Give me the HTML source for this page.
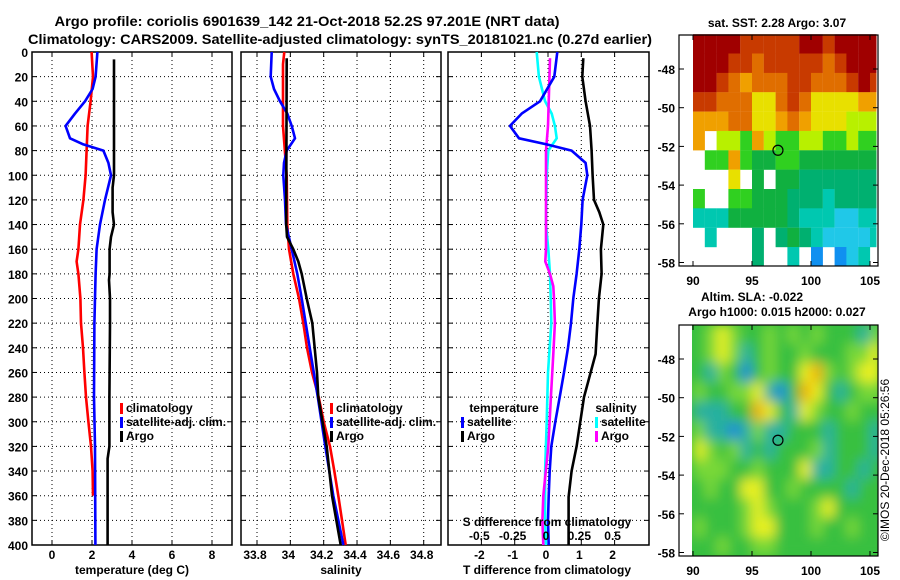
<!DOCTYPE html>
<html><head><meta charset="utf-8"><style>
html,body{margin:0;padding:0;background:#fff;}
svg{display:block;font-family:"Liberation Sans",sans-serif;font-weight:bold;}
</style></head><body>
<svg id="c" width="900" height="580" viewBox="0 0 900 580" xmlns="http://www.w3.org/2000/svg">
<defs><filter id="blur" x="-0.1" y="-0.1" width="1.2" height="1.2"><feGaussianBlur stdDeviation="6"/></filter>
<clipPath id="clipB"><rect x="692" y="325" width="186" height="231"/></clipPath></defs>
</svg>
<script>
// ---------- data ----------
const depthTicks=[0,20,40,60,80,100,120,140,160,180,200,220,240,260,280,300,320,340,360,380,400];
const tTicks=[0,2,4,6,8];
const sTicks=[33.8,34,34.2,34.4,34.6,34.8];
const dTicks=[-2,-1,0,1,2];
const sdTicks=[-0.5,-0.25,0,0.25,0.5];
const latTicks=[-48,-50,-52,-54,-56,-58];
const lonTicks=[90,95,100,105];

const climTDepth=[0,20,40,60,80,100,120,140,160,170,180,200,220,240,260,280,300,320,340,360];
const climT=[1.98,2.05,1.93,1.78,1.73,1.68,1.57,1.4,1.32,1.23,1.32,1.42,1.45,1.55,1.62,1.7,1.82,1.95,2.03,2.05];
const satTDepth=[0,20,30,40,50,60,70,75,80,90,100,120,140,160,180,200,220,280,320,400];
const satT=[2.27,2.18,2.03,1.65,1.15,0.68,0.9,1.57,2.57,2.82,2.95,2.65,2.4,2.23,2.18,2.15,2.12,2.1,2.15,2.17];
const argoTDepth=[6,100,110,130,140,150,160,180,185,200,220,280,320,330,400];
const argoT=[3.1,3.1,3.03,3.03,3.1,2.95,2.88,2.88,2.85,2.9,2.9,2.87,2.87,2.78,2.78];

const climSDepth=[0,10,60,100,140,160,180,200,220,240,260,280,300,320,340,360,380,400];
const climS=[33.964,33.956,33.956,33.978,33.982,33.992,34.018,34.052,34.078,34.1,34.13,34.17,34.2,34.238,34.264,34.288,34.31,34.332];
const satSDepth=[0,20,30,40,50,60,70,80,90,100,120,140,160,180,200,220,280,320,360,400];
const satS=[33.888,33.882,33.902,33.938,33.982,34.008,34.028,33.978,33.962,33.958,33.968,33.974,34.008,34.042,34.068,34.092,34.165,34.21,34.258,34.318];
const argoSDepth=[5,140,150,160,170,180,200,220,260,280,320,360,400];
const argoS=[33.978,33.975,33.98,34.018,34.048,34.068,34.098,34.132,34.16,34.168,34.218,34.25,34.302];

const dTDepth=[0,20,40,50,60,70,75,80,90,100,120,140,160,180,200,220,240,260,280,300,320,340,360,380,400];
const satDT=[0.28,0.19,-0.24,-0.79,-1.14,-0.87,-0.04,0.71,1.13,1.18,1.04,1.0,0.94,0.86,0.76,0.69,0.6,0.48,0.35,0.22,0.1,0.05,0.02,0.0,0.02];
const argoDTDepth=[5,20,40,60,80,100,120,130,140,160,180,200,225,245,265,280,320,340,361,400];
const argoDT=[1.06,1.03,1.13,1.26,1.31,1.34,1.38,1.54,1.66,1.59,1.61,1.53,1.47,1.43,1.23,1.08,0.86,0.71,0.62,0.62];
const dSDepth=[0,20,40,50,60,70,80,100,140,160,180,200,220,260,300,340,380,400];
const satDS=[-0.085,-0.068,-0.022,0.028,0.052,0.065,0.002,-0.01,-0.015,0.002,0.015,0.02,0.025,0.0,-0.01,-0.022,-0.022,-0.015];
const argoDSDepth=[5,60,80,160,170,180,190,200,220,245,280,320,360,380,400];
const argoDS=[0.015,0.0,-0.015,-0.015,-0.02,0.015,0.04,0.045,0.052,0.04,0.022,0.002,-0.035,-0.042,-0.035];

// map grids: rows from north (-46.2) southward by 1 deg, cols lon 90..105
const sstGrid=[
[0,0,0,0,1,1,1,1,1,0,0,1,0,0,0,0],
[0,0,0,1,1,2,1,1,1,1,1,2,1,0,0,0],
[0,0,1,2,3,2,2,2,1,1,2,2,2,1,0,1],
[1,1,2,2,2,4,4,2,1,2,4,4,4,4,3,3],
[3,3,3,2,2,4,4,3,2,3,4,4,4,5,5,5],
[3,-1,5,5,6,3,5,6,6,5,5,6,6,5,6,6],
[-1,6,6,3,6,7,7,6,6,7,7,7,7,7,7,7],
[-1,-1,-1,4,-1,7,-1,7,7,8,8,8,8,8,8,8],
[6,-1,-1,6,6,7,7,7,8,8,8,9,8,8,8,8],
[9,9,9,7,7,7,7,7,8,9,9,9,10,10,9,9],
[-1,9,-1,-1,-1,8,-1,8,7,8,9,10,10,10,10,9],
[-1,-1,-1,-1,-1,8,-1,-1,9,-1,11,-1,11,10,9,-1]];
const slaGrid=[
[0,1,2,1,0,0,1,0,1,0,1,0,0,0,-1,1],
[0,1,2,1,-1,0,1,0,0,1,0,0,0,1,1,2],
[0,-1,1,0,-2,0,1,0,0,2,3,1,0,1,2,2],
[1,0,0,1,1,2,-1,-2,0,3,2,0,-1,0,1,1],
[-1,-1,-1,0,0,3,2,0,-1,2,1,0,0,1,0,0],
[1,-1,-1,-2,-1,1,-1,-1,0,0,0,-1,0,0,0,-1],
[2,1,0,1,-1,0,-1,0,0,0,1,-1,0,0,0,-1],
[1,1,1,0,0,1,0,0,0,2,-1,-1,0,0,-1,0],
[0,1,0,0,2,2,0,0,1,0,0,0,0,-1,0,0],
[0,0,0,0,1,2,1,0,0,0,1,2,0,0,0,0],
[1,0,0,0,1,2,2,0,0,0,1,0,0,1,0,0],
[0,0,1,0,0,1,1,0,0,0,0,0,0,0,0,0]];
const sstColors=['#a00000','#c83a00','#e06e00','#f0a000','#e8e000','#b8f000','#30d020','#10b040','#00b070','#00c8b0','#20c8e8','#1090f0'];
const slaColors={'-2':'#1e8cd8','-1':'#28b0a0','0':'#38c040','1':'#78d838','2':'#e8f020','3':'#f0b000'};
const argoLon=97.2, argoLat=-52.2;

// ---------- helpers ----------
const svg=document.getElementById('c');
const NS='http://www.w3.org/2000/svg';
function el(tag,attrs,parent){const e=document.createElementNS(NS,tag);for(const k in attrs)e.setAttribute(k,attrs[k]);(parent||svg).appendChild(e);return e;}
function txt(x,y,s,size,anchor,parent){const t=el('text',{x:x,y:y,'font-size':size,'text-anchor':anchor||'middle',fill:'#000'},parent);t.textContent=s;return t;}
const yD=d=>52+d*(493/400);
const xT=v=>52+v*20;
const xS=v=>257+(v-33.8)*166.7;
const xDT=v=>548+v*33.3;
const xDS=v=>548+v*133.3;

// titles
let t1=txt(307,26,'Argo profile: coriolis 6901639_142 21-Oct-2018 52.2S 97.201E (NRT data)',14);

t1.setAttribute('textLength','505');t1.setAttribute('lengthAdjust','spacingAndGlyphs');
let t2=txt(340,44,'Climatology: CARS2009. Satellite-adjusted climatology: synTS_20181021.nc (0.27d earlier)',14);

t2.setAttribute('textLength','624');t2.setAttribute('lengthAdjust','spacingAndGlyphs');

function panel(name,x0,x1,gridXs){
  const g=el('g',{});
  
  
  depthTicks.forEach(d=>{if(d>0&&d<400){el('line',{x1:x0,x2:x1,y1:yD(d),y2:yD(d),stroke:'#000','stroke-width':1,'stroke-dasharray':'1,3'},g);}
    el('line',{x1:x0,x2:x0+5,y1:yD(d),y2:yD(d),stroke:'#000'},g);el('line',{x1:x1-5,x2:x1,y1:yD(d),y2:yD(d),stroke:'#000'},g);});
  gridXs.forEach(x=>{el('line',{x1:x,x2:x,y1:yD(0),y2:yD(400),stroke:'#000','stroke-width':1,'stroke-dasharray':'1,3'},g);
    el('line',{x1:x,x2:x,y1:yD(0),y2:yD(0)+5,stroke:'#000'},g);el('line',{x1:x,x2:x,y1:yD(400)-5,y2:yD(400),stroke:'#000'},g);});
  el('rect',{x:x0,y:yD(0),width:x1-x0,height:yD(400)-yD(0),fill:'none',stroke:'#000','stroke-width':1.5},g);
  return g;
}
function series(g,name,depths,vals,xf,color){
  const pts=depths.map((d,i)=>xf(vals[i]).toFixed(1)+','+yD(d).toFixed(1)).join(' ');
  const p=el('polyline',{points:pts,fill:'none',stroke:color,'stroke-width':2.6,'stroke-linejoin':'round'},g);
  
  
}
function legend(g,x,y,label,color,name){
  const lg=el('g',{},g);
  
  
  el('rect',{x:x,y:y-9,width:3,height:11,fill:color},lg);
  txt(x+6,y,label,12,'start',lg);
}

// y-axis labels
const ya=el('g',{});


depthTicks.forEach(d=>txt(28,yD(d)+5,String(d),12,'end',ya));

// panel 1
const p1=panel('temperature-panel',32,232,tTicks.map(xT));
series(p1,'climatology-temperature-line',climTDepth,climT,xT,'#ff0000');
series(p1,'satellite-temperature-line',satTDepth,satT,xT,'#0000ff');
series(p1,'argo-temperature-line',argoTDepth,argoT,xT,'#000');
tTicks.forEach(v=>txt(xT(v),559,String(v),12,'middle',p1));
txt(132,574,'temperature (deg C)',12,'middle',p1);
legend(p1,120,412,'climatology','#ff0000','legend-climatology');
legend(p1,120,426,'satellite-adj. clim.','#0000ff','legend-satellite-adj');
legend(p1,120,440,'Argo','#000','legend-argo');

// panel 2
const p2=panel('salinity-panel',241,441,sTicks.map(xS));
series(p2,'climatology-salinity-line',climSDepth,climS,xS,'#ff0000');
series(p2,'satellite-salinity-line',satSDepth,satS,xS,'#0000ff');
series(p2,'argo-salinity-line',argoSDepth,argoS,xS,'#000');
sTicks.forEach(v=>txt(xS(v)-2,559,String(v),12,'middle',p2));
txt(341,574,'salinity',12,'middle',p2);
legend(p2,330,412,'climatology','#ff0000','legend-climatology-2');
legend(p2,330,426,'satellite-adj. clim.','#0000ff','legend-satellite-adj-2');
legend(p2,330,440,'Argo','#000','legend-argo-2');

// panel 3
const p3=panel('difference-panel',448,649,dTicks.map(xDT));
series(p3,'satellite-salinity-diff-line',dSDepth,satDS,xDS,'#00ffff');
series(p3,'argo-salinity-diff-line',argoDSDepth,argoDS,xDS,'#ff00ff');
series(p3,'satellite-temperature-diff-line',dTDepth,satDT,xDT,'#0000ff');
series(p3,'argo-temperature-diff-line',argoDTDepth,argoDT,xDT,'#000');
dTicks.forEach(v=>txt(xDT(v)-2,559,String(v),12,'middle',p3));
txt(547,574,'T difference from climatology',12,'middle',p3);
txt(547,526,'S difference from climatology',12,'middle',p3);
sdTicks.forEach(v=>txt(xDS(v)-2,540,String(v),12,'middle',p3));
txt(504,412,'temperature',12,'middle',p3);
legend(p3,461,426,'satellite','#0000ff','legend-t-satellite');
legend(p3,461,440,'Argo','#000','legend-t-argo');
txt(616,412,'salinity',12,'middle',p3);
legend(p3,595,426,'satellite','#00ffff','legend-s-satellite');
legend(p3,595,440,'Argo','#ff00ff','legend-s-argo');

// maps
function mapFrame(name,top,grid,colorOf,blur){
  const g=el('g',{});
  
  
  const lonX=l=>693+(l-90)*11.8;
  const latY=a=>top+34+(-48-a)*19.35;
  let cells;
  if(blur){
    const clip=el('g',{'clip-path':'url(#clipB)'},g);
    el('rect',{x:692,y:top,width:186,height:231,fill:slaColors['0']},clip);
    cells=el('g',{filter:'url(#blur)'},clip);
  } else cells=el('g',{},g);
  grid.forEach((row,r)=>row.forEach((v,c)=>{
    const col=colorOf(v); if(!col)return;
    const x=lonX(90+c), y=latY(-46.2-r);
    el('rect',{x:x.toFixed(1),y:y.toFixed(1),width:(c==15&&!blur?6.5:11.9),height:19.5,fill:col},cells);
  }));
  el('rect',{x:679,y:top,width:199,height:231,fill:'none',stroke:'#000','stroke-width':1.2},g);
  latTicks.forEach(a=>{el('line',{x1:679,x2:684,y1:latY(a),y2:latY(a),stroke:'#000'},g);el('line',{x1:873,x2:878,y1:latY(a),y2:latY(a),stroke:'#000'},g);txt(675,latY(a)+5,String(a),12,'end',g);});
  lonTicks.forEach(l=>{el('line',{x1:lonX(l),x2:lonX(l),y1:top,y2:top+5,stroke:'#000'},g);el('line',{x1:lonX(l),x2:lonX(l),y1:top+226,y2:top+231,stroke:'#000'},g);txt(lonX(l),top+250,String(l),12,'middle',g);});
  const m=el('circle',{cx:lonX(argoLon),cy:latY(argoLat),r:5,fill:'none',stroke:'#000','stroke-width':1.2},g);
  
  
}
mapFrame('sst-map',35,sstGrid,v=>v<0?null:sstColors[v],false);
mapFrame('sla-map',325,slaGrid,v=>slaColors[String(v)],true);
txt(777,27,'sat. SST: 2.28 Argo: 3.07',12);
txt(752,301,'Altim. SLA: -0.022',12);
txt(777,316,'Argo h1000: 0.015 h2000: 0.027',12);
const cp=txt(0,0,'©IMOS 20-Dec-2018 05:26:56',12,'middle');
cp.setAttribute('transform','translate(889,460) rotate(-90)');
cp.setAttribute('font-weight','normal');


</script>
</body></html>
